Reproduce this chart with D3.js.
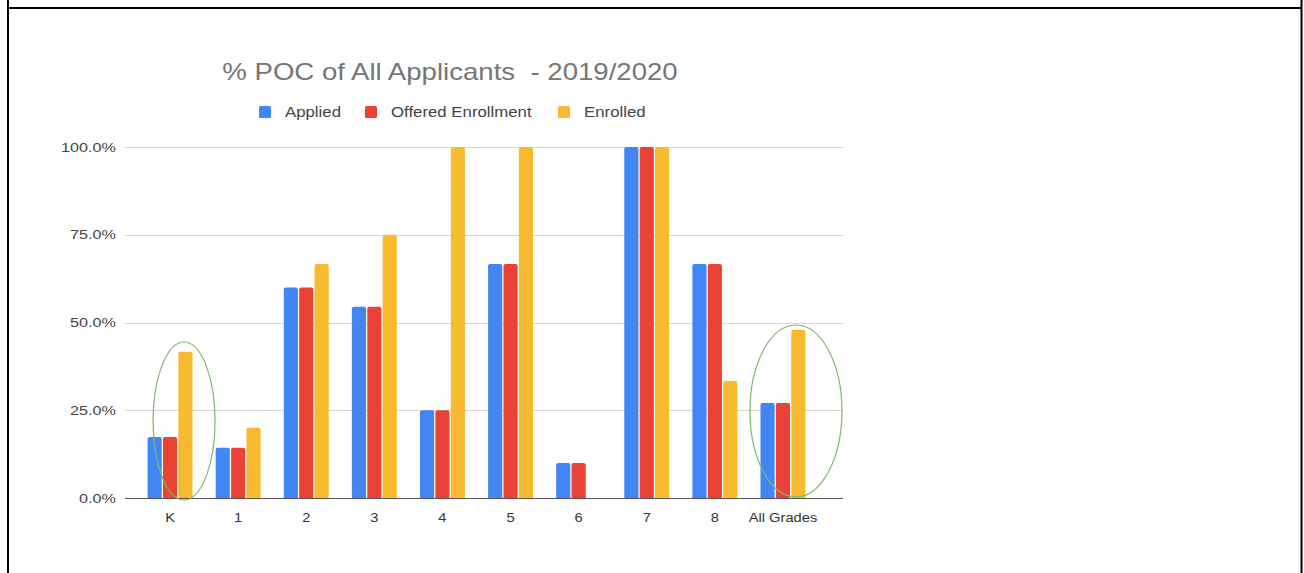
<!DOCTYPE html>
<html>
<head>
<meta charset="utf-8">
<script src="https://cdn.jsdelivr.net/npm/d3@7"></script>
<style>
  body { margin: 0; background: #fff; }
  svg { display: block; font-family: Arial, "Liberation Sans", sans-serif; }
</style>
</head>
<body>
<svg id="chart" width="1304" height="573"></svg>
<script>
var grades = ['K', '1', '2', '3', '4', '5', '6', '7', '8', 'All Grades']
var series = ['Applied', 'Offered Enrollment', 'Enrolled']
var applied = [17.4, 14.3, 60, 54.5, 25, 66.7, 10, 100, 66.7, 27.1]
var offered = [17.4, 14.3, 60, 54.5, 25, 66.7, 10, 100, 66.7, 27.1]
var enrolled = [41.7, 20, 66.7, 75, 100, 100, 0, 100, 33.3, 47.9]
var yTicks = [0, 25, 50, 75, 100]
var colors = ['#4285f4', '#ea4335', '#f8bb30']
var circled = ['K', 'All Grades']

var values = [applied, offered, enrolled]
var rows = grades.map(function(g, i){
  return { grade: g, vals: values.map(function(v){ return v[i] }) }
})

var svg = d3.select('#chart')

// frame
svg.append('line').attr('x1', 8).attr('x2', 8).attr('y1', 0).attr('y2', 573)
  .attr('stroke', '#000').attr('stroke-width', 2)
svg.append('line').attr('x1', 1301.5).attr('x2', 1301.5).attr('y1', 0).attr('y2', 573)
  .attr('stroke', '#000').attr('stroke-width', 2)
svg.append('line').attr('x1', 8).attr('x2', 1301.5).attr('y1', 8).attr('y2', 8)
  .attr('stroke', '#000').attr('stroke-width', 2)

var x = d3.scaleBand().domain(grades).range([136, 817]).paddingInner(0.34).paddingOuter(0.17)
var xs = d3.scaleBand().domain(series).range([0, x.bandwidth()]).paddingInner(0.08)
var y = d3.scaleLinear().domain([0, 100]).range([498, 147])

// text with a bit of horizontal stretch, like the screenshot
function label(parent, tx, ty, sx) {
  return parent.append('g')
    .attr('transform', 'translate(' + tx + ',' + ty + ') scale(' + sx + ',1)')
    .append('text')
}

// gridlines
svg.append('g').selectAll('line')
  .data(yTicks)
  .join('line')
  .attr('x1', 125).attr('x2', 843)
  .attr('y1', function(d){ return Math.round(y(d)) + 0.5 })
  .attr('y2', function(d){ return Math.round(y(d)) + 0.5 })
  .attr('stroke', function(d){ return d === 0 ? '#555' : '#d6d6d6' })
  .attr('stroke-width', 1)

// y labels
var yl = svg.append('g')
yTicks.forEach(function(d){
  label(yl, 116, y(d) + 4.5, 1.2)
    .attr('text-anchor', 'end')
    .attr('font-size', 13.5)
    .attr('fill', '#444')
    .text(d.toFixed(1) + '%')
})

// bars
var groups = svg.append('g').selectAll('g')
  .data(rows)
  .join('g')
  .attr('transform', function(d){ return 'translate(' + x(d.grade) + ',0)' })

groups.selectAll('path')
  .data(function(d){ return d.vals.map(function(v, i){ return { s: series[i], v: v, i: i } }) })
  .join('path')
  .attr('fill', function(d){ return colors[d.i] })
  .attr('d', function(d){
    if (d.v <= 0) return ''
    var x0 = xs(d.s), w = xs.bandwidth(), top = y(d.v), bot = y(0), r = 2
    return 'M' + x0 + ',' + bot + 'V' + (top + r) + 'Q' + x0 + ',' + top + ' ' + (x0 + r) + ',' + top +
      'H' + (x0 + w - r) + 'Q' + (x0 + w) + ',' + top + ' ' + (x0 + w) + ',' + (top + r) + 'V' + bot + 'Z'
  })

// x labels
var xl = svg.append('g')
grades.forEach(function(d){
  label(xl, x(d) + x.bandwidth() / 2, 522, 1.13)
    .attr('text-anchor', 'middle')
    .attr('font-size', 13)
    .attr('fill', '#333')
    .text(d)
})

// green annotation ellipses
var ell = [
  { g: 'K', dx: 14, cy: 421, rx: 31, ry: 79 },
  { g: 'All Grades', dx: 13, cy: 411, rx: 46, ry: 86 }
]
svg.append('g').selectAll('ellipse')
  .data(ell.filter(function(e){ return circled.indexOf(e.g) >= 0 }))
  .join('ellipse')
  .attr('cx', function(e){ return x(e.g) + x.bandwidth() / 2 + e.dx })
  .attr('cy', function(e){ return e.cy })
  .attr('rx', function(e){ return e.rx })
  .attr('ry', function(e){ return e.ry })
  .attr('fill', 'none')
  .attr('stroke', '#7fb86a')
  .attr('stroke-width', 1.2)

// title
label(svg, 450, 80, 1.2)
  .attr('text-anchor', 'middle')
  .attr('font-size', 23)
  .attr('fill', '#757575')
  .attr('xml:space', 'preserve')
  .style('white-space', 'pre')
  .text('% POC of All Applicants  - 2019/2020')

// legend
var legendX = [259, 365, 558]
var leg = svg.append('g').selectAll('g')
  .data(series)
  .join('g')
  .attr('transform', function(d, i){ return 'translate(' + legendX[i] + ',106)' })
leg.append('rect').attr('width', 12).attr('height', 12).attr('rx', 1.5)
  .attr('fill', function(d, i){ return colors[i] })
leg.append('g').attr('transform', 'translate(26,10.5) scale(1.2,1)')
  .append('text')
  .attr('font-size', 14).attr('fill', '#444')
  .text(function(d){ return d })
</script>
</body>
</html>
